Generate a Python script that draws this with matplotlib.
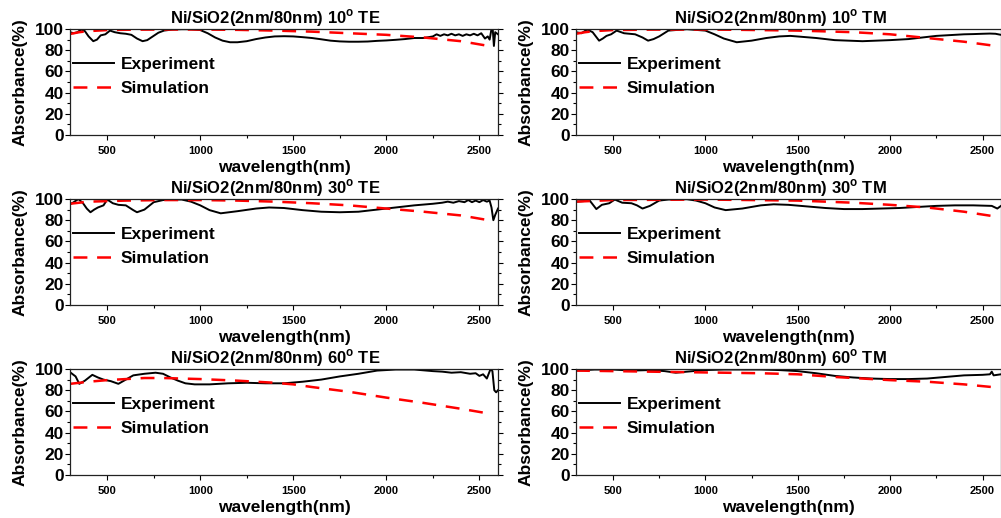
import matplotlib
matplotlib.use("Agg")
import matplotlib.pyplot as plt
from matplotlib.ticker import MultipleLocator

plt.rcParams['font.family'] = ['Liberation Sans', 'DejaVu Sans']
plt.rcParams['font.weight'] = 'bold'
plt.rcParams['mathtext.fontset'] = 'custom'
plt.rcParams['mathtext.rm'] = 'Liberation Sans:bold'
plt.rcParams['mathtext.bf'] = 'Liberation Sans:bold'
plt.rcParams['lines.scale_dashes'] = False

titles = ["Ni/SiO2(2nm/80nm) 10$^\\mathbf{o}$ TE", "Ni/SiO2(2nm/80nm) 10$^\\mathbf{o}$ TM",
          "Ni/SiO2(2nm/80nm) 30$^\\mathbf{o}$ TE", "Ni/SiO2(2nm/80nm) 30$^\\mathbf{o}$ TM",
          "Ni/SiO2(2nm/80nm) 60$^\\mathbf{o}$ TE", "Ni/SiO2(2nm/80nm) 60$^\\mathbf{o}$ TM"]

# ---- 10 deg TE ----
exp_10te_wl = [300, 320, 340, 360, 380, 400, 425, 445, 465, 490, 515, 540, 570, 600, 630, 660, 690, 715, 745, 775,
               805, 850, 900, 950, 1000, 1040, 1080, 1120, 1160, 1200, 1250, 1300, 1350, 1400, 1450, 1500, 1550,
               1600, 1650, 1700, 1750, 1800, 1850, 1900, 1950, 2000, 2050, 2100, 2150, 2200, 2250, 2270, 2290,
               2310, 2330, 2350, 2370, 2390, 2410, 2430, 2450, 2470, 2490, 2510, 2530, 2545, 2555, 2565, 2572,
               2578, 2585, 2600]
exp_10te = [97, 96, 97, 99.5, 98, 93, 88.5, 90, 94, 95, 98.5, 97, 96, 95.5, 94.5, 91, 88.5, 89.5, 93, 96.5,
            98.5, 99.5, 99.8, 99.8, 99, 96, 92, 89, 87.5, 87.5, 88.5, 90.5, 92, 93, 93.2, 93, 92.3,
            91.5, 90.3, 89, 88.3, 88, 88, 88.2, 88.8, 89.2, 89.8, 90.5, 91.5, 91.5, 93, 95, 93.5,
            95, 94, 95.5, 94, 95, 93.5, 95, 94, 95.5, 94, 96, 91, 93, 90, 100, 99,
            84, 97, 95]
sim_10te_wl = [300, 350, 400, 500, 600, 800, 1000, 1200, 1400, 1600, 1800, 2000, 2200, 2400, 2550]
sim_10te = [95.3, 97, 98, 99, 99.3, 99.5, 99.5, 99.2, 98.5, 97.5, 96, 94.5, 92, 88.5, 84]

# ---- 10 deg TM ----
exp_10tm_wl = [300, 330, 360, 390, 425, 445, 465, 490, 520, 560, 620, 660, 690, 720, 750, 800, 900, 1000, 1050,
               1100, 1170, 1250, 1330, 1400, 1460, 1530, 1600, 1700, 1850, 2000, 2100, 2200, 2250, 2300, 2350,
               2400, 2450, 2500, 2540, 2570, 2600]
exp_10tm = [97, 96, 99.5, 97, 89, 91, 93.5, 95, 98.5, 96, 95, 92, 89, 90.5, 93, 98.5, 99.8, 98.5, 95,
            91, 87.5, 89, 91.5, 93, 93.5, 92.5, 91.5, 89.5, 88.5, 89.5, 90.5, 92.5, 93.5, 94, 94.5,
            95, 95.2, 95.5, 95.7, 95.5, 94.5]
sim_10tm_wl = [300, 350, 400, 500, 700, 1000, 1200, 1500, 1800, 2000, 2200, 2400, 2550]
sim_10tm = [95.5, 97, 98, 99, 99.4, 99.5, 99.2, 98.5, 97, 95, 91.5, 88, 84.5]

# ---- 30 deg TE ----
exp_30te_wl = [300, 320, 345, 370, 390, 410, 430, 450, 480, 500, 530, 560, 600, 640, 660, 700, 750, 800, 850,
               900, 950, 1000, 1050, 1110, 1200, 1300, 1370, 1450, 1550, 1650, 1750, 1850, 1950, 2050, 2150,
               2250, 2300, 2330, 2360, 2390, 2420, 2440, 2460, 2480, 2500, 2520, 2540, 2555, 2565, 2575, 2585,
               2600]
exp_30te = [95, 97, 100, 96, 91, 87.5, 90, 92, 94, 99.5, 96, 94.5, 94, 89.5, 87.5, 90, 97, 99, 99.5,
            99.5, 97.5, 94, 89.5, 86.5, 88.5, 91, 92, 91.5, 89.5, 88, 87.5, 88, 90, 92, 94,
            95.5, 96.5, 97.5, 96.5, 98, 97, 99, 97, 98.5, 97, 99, 97.5, 98.5, 92, 80, 85,
            91]
sim_30te_wl = [300, 400, 600, 800, 1000, 1200, 1400, 1600, 1800, 2000, 2200, 2400, 2550]
sim_30te = [95.5, 97.5, 98.5, 99, 99, 98.5, 97.5, 96, 94, 91, 88, 84.5, 80]

# ---- 30 deg TM ----
exp_30tm_wl = [300, 340, 370, 390, 410, 440, 480, 510, 550, 600, 630, 660, 700, 750, 800, 900, 950, 1000, 1050,
               1110, 1200, 1300, 1370, 1450, 1550, 1650, 1750, 1850, 1950, 2050, 2150, 2250, 2350, 2450, 2550,
               2580, 2600]
exp_30tm = [97.5, 98, 99.5, 95, 90.5, 94.5, 96, 99.5, 96.5, 96, 94, 91, 93.5, 98.5, 99.5, 99.8, 98.5, 96, 92,
            89.5, 91, 94, 95, 94.5, 93, 91.5, 90.5, 90.5, 91, 91.5, 92.5, 93.5, 94, 94, 93.5,
            91, 93.5]
sim_30tm_wl = [300, 500, 1000, 1500, 1800, 2000, 2200, 2400, 2550]
sim_30tm = [97.5, 99, 99.5, 98.5, 96.5, 94.5, 92, 88, 84]

# ---- 60 deg TE ----
exp_60te_wl = [300, 330, 350, 380, 420, 450, 480, 520, 560, 600, 640, 700, 760, 800, 840, 880, 920, 970, 1050,
               1150, 1250, 1350, 1450, 1550, 1650, 1750, 1850, 1950, 2050, 2150, 2250, 2300, 2350, 2400,
               2450, 2480, 2500, 2520, 2540, 2560, 2570, 2580, 2590, 2600]
exp_60te = [97, 93, 86, 89, 94.5, 92, 90, 88.5, 86, 90, 94, 95.5, 96.5, 95.5, 92, 89, 86.5, 85.5, 85.5,
            86.5, 87, 86.5, 86.5, 88, 90, 93, 95.5, 98.5, 99.5, 99.5, 98, 97.5, 96.5, 97,
            95.5, 96, 93.5, 95, 91, 100, 98, 80, 78, 80]
sim_60te_wl = [300, 400, 500, 600, 700, 800, 900, 1000, 1200, 1400, 1500, 1600, 1800, 2000, 2200, 2400, 2550]
sim_60te = [86, 88, 89.5, 90.5, 91.5, 91.5, 91, 90.5, 89, 87, 85.5, 83, 78.5, 73, 68, 62.5, 58]

# ---- 60 deg TM ----
exp_60tm_wl = [300, 400, 500, 600, 700, 780, 840, 900, 1000, 1100, 1200, 1300, 1400, 1500, 1600, 1700, 1800,
               1900, 2000, 2100, 2200, 2300, 2400, 2500, 2540, 2550, 2560, 2600]
exp_60tm = [98.5, 99.5, 99.5, 98.5, 99, 98, 96.5, 97.5, 99, 99.5, 99.5, 99.5, 99, 98, 96, 93.5, 92,
            91, 90.5, 90.5, 91, 92.5, 94, 94.5, 95, 97.5, 94, 95]
sim_60tm_wl = [300, 500, 700, 900, 1100, 1300, 1500, 1700, 1900, 2000, 2200, 2400, 2550]
sim_60tm = [98.5, 98, 97.5, 97, 96.5, 96, 95, 92.5, 90.5, 89.5, 88, 85.5, 83]

panels = [
    (exp_10te_wl, exp_10te, sim_10te_wl, sim_10te),
    (exp_10tm_wl, exp_10tm, sim_10tm_wl, sim_10tm),
    (exp_30te_wl, exp_30te, sim_30te_wl, sim_30te),
    (exp_30tm_wl, exp_30tm, sim_30tm_wl, sim_30tm),
    (exp_60te_wl, exp_60te, sim_60te_wl, sim_60te),
    (exp_60tm_wl, exp_60tm, sim_60tm_wl, sim_60tm),
]

W, H = 1001, 518
fig = plt.figure(figsize=(W / 100, H / 100), dpi=100)

col_x = [70 / W, 576 / W]
col_w = [428 / W, 425 / W]
row_top = [29, 199, 369]
ax_h = 106

for i, (ewl, ev, swl, sv) in enumerate(panels):
    r, c = divmod(i, 2)
    bottom = (H - row_top[r] - ax_h) / H
    ax = fig.add_axes([col_x[c], bottom, col_w[c], ax_h / H])
    ax.plot(ewl, ev, color='black', lw=1.4, label='Experiment')
    ax.plot(swl, sv, color='#ff0000', lw=1.8, dashes=(10, 7), label='Simulation')
    ax.set_xlim(300, 2600)
    ax.set_ylim(0, 100)
    ax.xaxis.set_major_locator(MultipleLocator(500))
    ax.xaxis.set_minor_locator(MultipleLocator(250))
    ax.yaxis.set_major_locator(MultipleLocator(20))
    ax.yaxis.set_minor_locator(MultipleLocator(10))
    ax.tick_params(axis='x', which='major', labelsize=8, length=3.5, width=0.8, direction='out', pad=4.5)
    ax.tick_params(axis='x', which='minor', length=2, width=0.8, direction='out')
    ax.tick_params(axis='y', which='major', labelsize=12.5, length=3.5, width=0.8, direction='out', pad=1,
                   right=True)
    ax.tick_params(axis='y', which='minor', length=2.5, width=0.8, direction='out', right=True)
    for lab in ax.get_xticklabels() + ax.get_yticklabels():
        lab.set_fontweight('bold')
    for s in ax.spines.values():
        s.set_linewidth(0.9)
        s.set_color('#222222')
    ax.set_xlabel('wavelength(nm)', fontsize=12.5, fontweight='bold', labelpad=3)
    ax.set_ylabel('Absorbance(%)', fontsize=12.5, fontweight='bold', labelpad=5)
    ax.set_title(titles[i], fontsize=12, fontweight='bold', pad=2, x=0.48)
    ax.legend(loc='upper left', bbox_to_anchor=(-0.01, 0.80), frameon=False,
              handlelength=2.4, handletextpad=0.35, labelspacing=0.5, borderaxespad=0.0,
              prop={'weight': 'bold', 'size': 12.5})

fig.savefig('out.png', dpi=100)
